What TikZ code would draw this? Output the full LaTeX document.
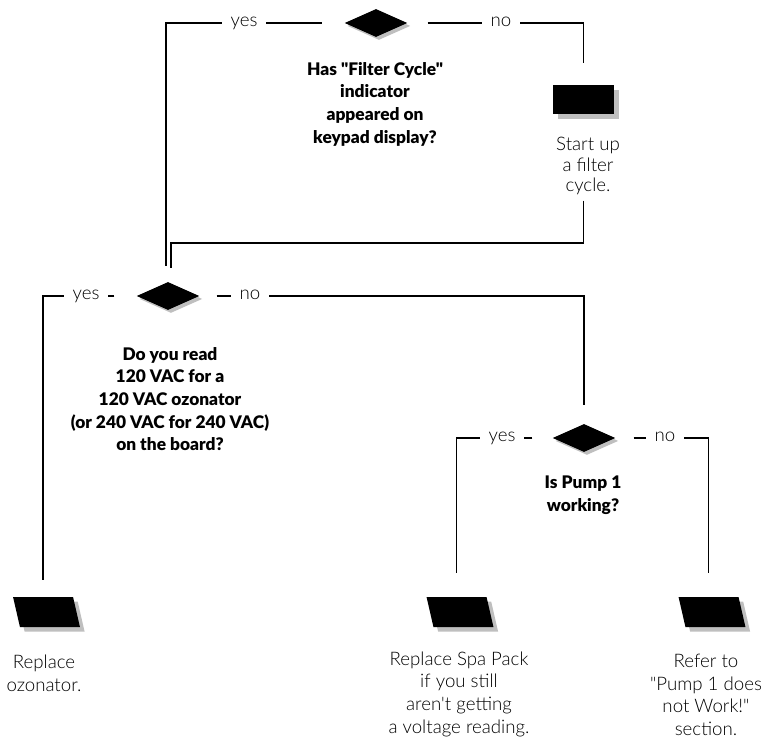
\documentclass[tikz,border=0pt]{standalone}
\usepackage{fontspec}
\setmainfont{Lato}[UprightFont=* Light, BoldFont=* Black, Ligatures=TeXOff]
\newfontfamily\askfont{Lato Black}[Ligatures=TeXOff]
\usetikzlibrary{positioning, arrows.meta, shapes.geometric, shadows, calc}

\begin{document}
\begin{tikzpicture}[
    x=0.75pt, y=-0.75pt,
    font=\fontsize{14}{17}\selectfont,
    decision/.style={
        diamond,
        fill=black,
        inner sep=0pt,
        minimum width=47pt,
        minimum height=21pt,
        drop shadow={shadow xshift=2.2pt, shadow yshift=-2.2pt, fill=black!25, opacity=1}
    },
    task/.style={
        rectangle,
        fill=black,
        inner sep=0pt,
        minimum width=45.75pt,
        minimum height=21.75pt,
        drop shadow={shadow xshift=3.5pt, shadow yshift=-3.5pt, fill=black!25, opacity=1}
    },
    slanted/.style={
        task,
        xslant=-0.23,
        minimum width=45pt,
        minimum height=22.5pt
    },
    question/.style={align=center, inner sep=0pt, font=\askfont\fontsize{13}{17}\selectfont},
    note/.style={align=center, inner sep=0pt},
    answer/.style={fill=white, inner xsep=6.5pt, inner ysep=1pt, anchor=base},
    link/.style={line width=0.9pt}
]
\useasboundingbox (0,0) rectangle (769,738);

% decisions
\node[decision] (q1) at (376,23) {};
\node[question] (q1txt) at (375,104) {Has "Filter Cycle"\\indicator\\appeared on\\keypad display?};
\node[decision] (q2) at (168,296) {};
\node[question] (q2txt) at (170,399) {Do you read\\120 VAC for a\\120 VAC ozonator\\(or 240 VAC for 240 VAC)\\on the board?};
\node[decision] (q3) at (584,438) {};
\node[question] (q3txt) at (583,495) {Is Pump 1\\working?};

% actions
\node[task] (a1) at (583.5,99.5) {};
\node[note, font=\fontsize{14}{15.5}\selectfont] (a1txt) at (588,166) {Start up\\a filter\\cycle.};
\node[slanted] (a2) at (46.5,612) {};
\node[note] (a2txt) at (44,673) {Replace\\ozonator.};
\node[slanted] (a3) at (460,612) {};
\node[note] (a3txt) at (459,694) {Replace Spa Pack\\if you still\\aren't getting\\a voltage reading.};
\node[slanted] (a4) at (712,612) {};
\node[note] (a4txt) at (706,695) {Refer to\\"Pump 1 does\\not Work!"\\section.};

\coordinate (j1) at (171,243);

% connectors
\draw[link, shorten <=17pt, shorten >=12pt] (q1.west) -| ($(q2.north)+(-2,0)$);
\draw[link, shorten <=15pt, shorten >=16.5pt] (q1.east) -| (a1.north);
\draw[link, shorten <=4pt, shorten >=10.5pt] (a1.south |- a1txt.south) |- (j1) -- ($(q2.north)+(3,0)$);
\draw[link, shorten <=16.5pt, shorten >=12.75pt] (q2.west) -| (a2.north);
\draw[link, shorten <=12.75pt, shorten >=14pt] (q2.east) -| (q3.north);
\draw[link, shorten <=15pt, shorten >=18pt] (q3.west) -| (a3.north);
\draw[link, shorten <=13.5pt, shorten >=18pt] (q3.east) -| (a4.north);

% labels
\node[answer] (y1) at (244,27) {yes};
\node[answer] (n1) at (501,27) {no};
\node[answer] (y2) at (86,300) {yes};
\node[answer] (n2) at (250,300) {no};
\node[answer] (y3) at (502,442) {yes};
\node[answer] (n3) at (665,442) {no};

\end{tikzpicture}
\end{document}
